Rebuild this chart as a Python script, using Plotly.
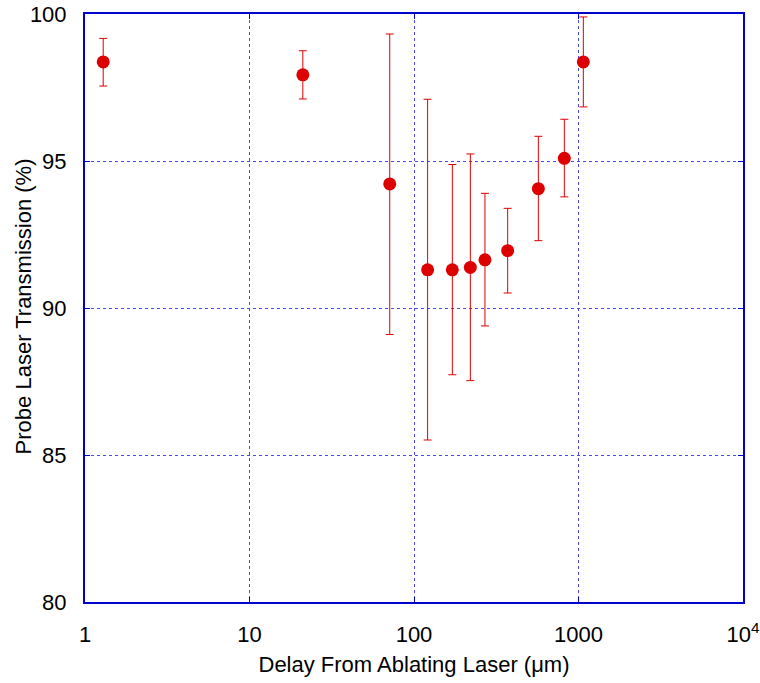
import plotly.graph_objects as go

# Data
delay = [1.29, 21.1, 71.2, 121, 171, 220, 270, 371, 570, 820, 1070]
transmission = [98.37, 97.93, 94.22, 91.30, 91.30, 91.38, 91.64, 91.95, 94.06, 95.09, 98.37]
err_plus = [0.80, 0.82, 5.10, 5.80, 3.58, 3.86, 2.26, 1.44, 1.78, 1.33, 1.53]
err_minus = [0.82, 0.82, 5.12, 5.79, 3.57, 3.85, 2.25, 1.44, 1.77, 1.31, 1.53]

x_tickvals = [1, 10, 100, 1000, 10000]
x_ticktext = ["1", "10", "100", "1000", "10<sup>4</sup>"]
y_tickvals = [80, 85, 90, 95, 100]

red = "#dd0000"
blue = "#0000cc"
gridc = "#4a4aee"
font = "Liberation Sans, Arial, sans-serif"

fig = go.Figure()
fig.add_trace(go.Scatter(
    x=delay, y=transmission, mode="markers",
    marker=dict(color=red, size=13, line=dict(width=0)),
    error_y=dict(type="data", symmetric=False, array=err_plus, arrayminus=err_minus,
                 color=red, thickness=1, width=4),
    showlegend=False,
))

fig.update_layout(
    width=760, height=683,
    margin=dict(l=85, r=17, t=14, b=81),
    paper_bgcolor="white", plot_bgcolor="white",
    font=dict(family=font, size=22, color="black"),
)
fig.update_xaxes(
    type="log", range=[0, 4], automargin=False,
    tickvals=x_tickvals, ticktext=x_ticktext,
    showline=True, linecolor=blue, linewidth=2, mirror="ticks",
    ticks="inside", ticklen=5, tickcolor=blue,
    showgrid=True, gridcolor=gridc, gridwidth=1, griddash="3px,3px",
    zeroline=False, ticklabelstandoff=12,
    title=dict(text="Delay From Ablating Laser (\u03bcm)", font=dict(size=22), standoff=10),
)
fig.update_yaxes(
    range=[80, 100], tickvals=y_tickvals, automargin=False,
    showline=True, linecolor=blue, linewidth=2, mirror="ticks",
    ticks="inside", ticklen=5, tickcolor=blue,
    showgrid=True, gridcolor=gridc, gridwidth=1, griddash="3px,3px",
    zeroline=False, ticklabelstandoff=12,
)
fig.add_annotation(
    text="Probe Laser Transmission (%)", textangle=-90,
    xref="paper", yref="paper", x=-0.094, y=0.503,
    xanchor="center", yanchor="middle", showarrow=False,
    font=dict(size=22, family=font, color="black"),
)

fig.write_html("out.html")
